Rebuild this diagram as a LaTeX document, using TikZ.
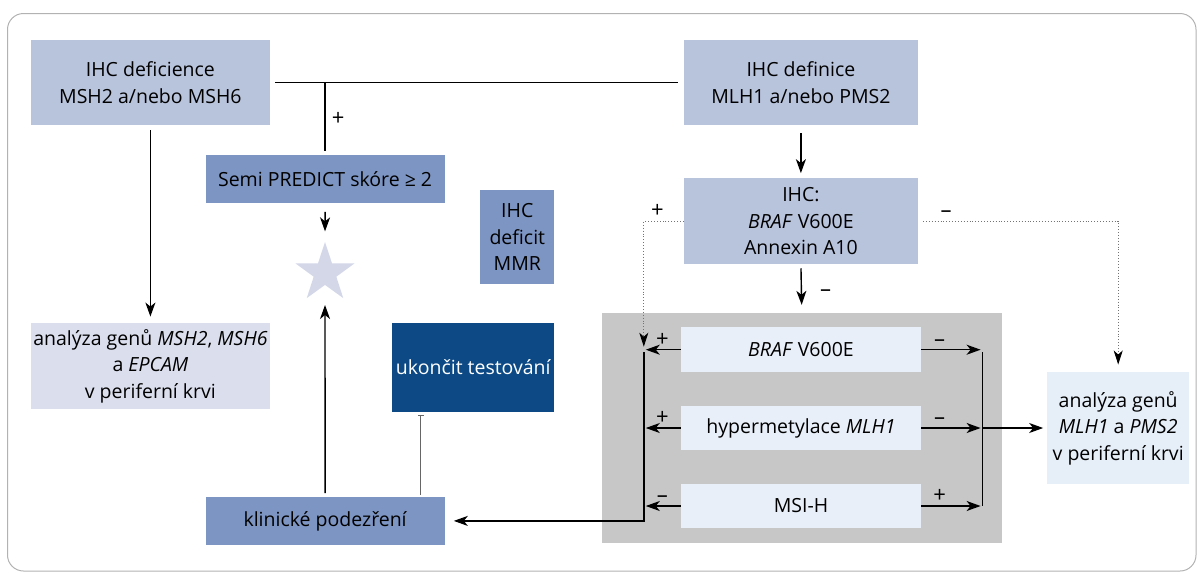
\documentclass[tikz,border=0pt]{standalone}
\usepackage{fontspec}
\setmainfont{Open Sans}
\usetikzlibrary{positioning,arrows.meta,shapes.geometric}

\definecolor{boxlight}{HTML}{B8C3DC}
\definecolor{boxmid}{HTML}{7D95C2}
\definecolor{boxpale}{HTML}{DBDEED}
\definecolor{boxdark}{HTML}{0D4A85}
\definecolor{boxrow}{HTML}{E9EFF8}
\definecolor{boxblood}{HTML}{E6EEF8}
\definecolor{panelgrey}{HTML}{C7C7C7}
\definecolor{starblue}{HTML}{D3D7E8}

\tikzset{
  box/.style={rectangle, inner sep=2pt, align=center, font=\fontsize{19.5}{26.5}\selectfont},
  plain/.style={line width=1.4pt},
  arr/.style={line width=1.4pt, -{Stealth[length=14pt,width=10pt,inset=4pt]}},
  dots/.style={dotted, line width=0.9pt, black!55, -{Stealth[length=14pt,width=9pt,inset=4pt,black]}},
  tline/.style={line width=0.9pt, black!60, -{Bar[width=6pt]}},
  sign/.style={font=\fontsize{22}{24}\selectfont, inner sep=3pt, black},
}

\begin{document}
\begin{tikzpicture}[x=1pt,y=-1pt]
  \useasboundingbox (0,0) rectangle (1197,574);
  \draw[black!30, line width=1pt, rounded corners=16pt] (7.5,13.5) rectangle (1196,571);

  \node[fill=panelgrey, minimum width=399.6pt, minimum height=230.6pt] (panel) at (801.8,428) {};

  \begin{scope}[every node/.style={box}]

    \node[fill=boxlight, minimum width=239.6pt, minimum height=85pt] (defMSH) at (150.4,82.5) {IHC deficience\\MSH2 a/nebo MSH6};
    \node[fill=boxlight, minimum width=234pt, minimum height=85pt] (defMLH) at (800.9,82.5) {IHC definice\\MLH1 a/nebo PMS2};
    \node[fill=boxmid, minimum width=239pt, minimum height=47.7pt] (semi) at (325.1,178.9) {Semi PREDICT skóre ≥ 2};
    \node[fill=boxmid, minimum width=74pt, minimum height=94pt] (mmr) at (517.3,237.2) {IHC\\deficit\\MMR};
    \node[fill=boxpale, minimum width=239.6pt, minimum height=85.7pt] (anaMSH) at (150.4,366.2) {analýza genů \textit{MSH2}, \textit{MSH6}\\a \textit{EPCAM}\\v periferní krvi};
    \node[fill=boxdark, text=white, minimum width=162pt, minimum height=88.4pt] (stop) at (473.3,367.5) {ukončit testování};
    \node[fill=boxmid, minimum width=239pt, minimum height=48.3pt] (klin) at (325.1,520.9) {klinické podezření};
    \node[fill=boxlight, minimum width=234pt, minimum height=85.7pt] (ihc) at (800.9,221.2) {IHC:\\\textit{BRAF} V600E\\Annexin A10};
    \node[fill=boxrow, minimum width=240pt, minimum height=44.7pt] (braf) at (801,349.7) {\textit{BRAF} V600E};
    \node[fill=boxrow, minimum width=240pt, minimum height=44.3pt] (hyper) at (801,428) {hypermetylace \textit{MLH1}};
    \node[fill=boxrow, minimum width=240pt, minimum height=44.6pt] (msi) at (801,506) {MSI-H};
    \node[fill=boxblood, minimum width=141.7pt, minimum height=111.4pt] (anaMLH) at (1118.2,428) {analýza genů\\\textit{MLH1} a \textit{PMS2}\\v periferní krvi};

  \end{scope}
  \node[star, star points=5, star point ratio=2.6, minimum size=62pt, inner sep=0pt, fill=starblue] (star) at (325,273) {};

  \coordinate (lbus) at (643.8,352);
  \coordinate (rbus) at (982.6,352);

  \draw[plain] ([xshift=5pt]defMSH.east) -- ([xshift=-6pt]defMLH.west);
  \draw[plain, shorten >=4pt] (semi.north |- defMSH.east) -- node[sign, right, xshift=3pt] {+} (semi.north);
  \path[arr] (semi.south) edge[shorten <=9pt, shorten >=10pt] (star.north);
  \path[arr] (klin.north) edge[shorten <=3.4pt, shorten >=32pt] (star.center);
  \path[arr] (defMSH.south) edge[shorten <=5pt, shorten >=6.6pt] (anaMSH.north);
  \path[arr] (defMLH.south) edge[shorten <=8pt, shorten >=5pt] (ihc.north);
  \path[arr] (ihc.south) edge[shorten <=4pt, shorten >=7.7pt] node[sign, pos=0.6, right=15pt] {–} (panel.north);
  \draw[tline, shorten <=1.7pt, shorten >=3.3pt] ([xshift=-24pt]klin.north east) -- ([xshift=-24pt]klin.north east |- stop.south);

  \draw[dots, shorten >=5.3pt] (ihc.west) -| node[sign, above, pos=0.33] {+} (lbus);
  \draw[dots, shorten <=5pt, shorten >=7.6pt] (ihc.east) -| node[sign, above, pos=0.07] {–} (anaMLH.north);

  \draw[arr, shorten >=9pt] (lbus) -- (lbus |- klin.east) -- (klin.east);
  \path[arr] (braf.west) edge[shorten >=2pt] node[sign, above] {+} (braf.west -| lbus);
  \path[arr] (hyper.west) edge[shorten >=2pt] node[sign, above] {+} (hyper.west -| lbus);
  \path[arr] (msi.west) edge[shorten >=2pt] node[sign, above] {–} (msi.west -| lbus);
  \path[arr] (braf.east) edge[shorten >=2pt] node[sign, above, pos=0.3] {–} (braf.east -| rbus);
  \path[arr] (hyper.east) edge[shorten >=2pt] node[sign, above, pos=0.3] {–} (hyper.east -| rbus);
  \path[arr] (msi.east) edge[shorten >=2pt] node[sign, above, pos=0.3] {+} (msi.east -| rbus);
  \draw[plain] (rbus) -- (rbus |- msi.east);
  \path[arr] (rbus |- hyper.east) edge[shorten >=4pt] (anaMLH.west);
\end{tikzpicture}
\end{document}
